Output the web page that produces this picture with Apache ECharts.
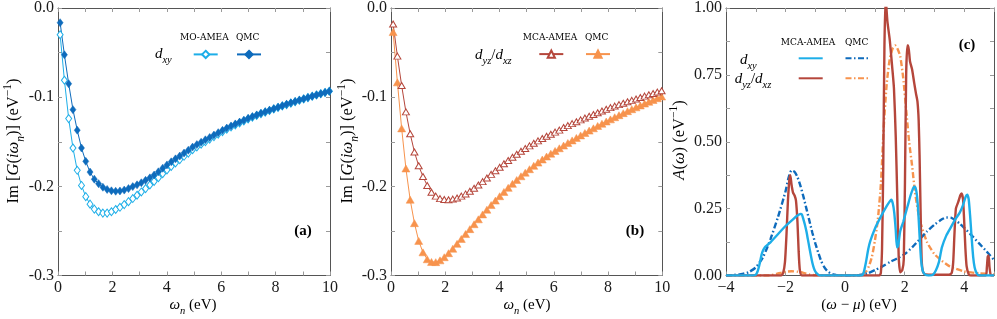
<!DOCTYPE html>
<html>
<head>
<meta charset="utf-8">
<script src="https://cdn.jsdelivr.net/npm/echarts@6/dist/echarts.min.js"></script>
<style>html,body{margin:0;padding:0;background:#fff;}#c{width:997px;height:319px;}</style>
</head>
<body>
<div id="c"></div>
<script>
// ---------- DATA ----------
const omega = [0.0785,0.2356,0.3927,0.5498,0.7069,0.8639,1.0210,1.1781,1.3352,1.4923,
1.6493,1.8064,1.9635,2.1206,2.2777,2.4347,2.5918,2.7489,2.9060,3.0631,
3.2201,3.3772,3.5343,3.6914,3.8485,4.0055,4.1626,4.3197,4.4768,4.6338,
4.7909,4.9480,5.1051,5.2622,5.4192,5.5763,5.7334,5.8905,6.0476,6.2046,
6.3617,6.5188,6.6759,6.8330,6.9900,7.1471,7.3042,7.4613,7.6184,7.7754,
7.9325,8.0896,8.2467,8.4038,8.5608,8.7179,8.8750,9.0321,9.1892,9.3462,
9.5033,9.6604,9.8175,9.9746];

// panel (a) d_xy
const ameaA = [-0.0300,-0.0810,-0.1240,-0.1570,-0.1820,-0.1990,-0.2116,-0.2200,-0.2255,-0.2285,
-0.2300,-0.2300,-0.2285,-0.2260,-0.2235,-0.2205,-0.2172,-0.2137,-0.2100,-0.2063,
-0.2025,-0.1985,-0.1945,-0.1903,-0.1858,-0.1816,-0.1777,-0.1738,-0.1700,-0.1663,
-0.1627,-0.1590,-0.1558,-0.1528,-0.1499,-0.1470,-0.1442,-0.1414,-0.1387,-0.1360,
-0.1335,-0.1311,-0.1289,-0.1267,-0.1245,-0.1225,-0.1205,-0.1186,-0.1168,-0.1150,
-0.1133,-0.1116,-0.1099,-0.1083,-0.1067,-0.1051,-0.1035,-0.1020,-0.1005,-0.0990,
-0.0976,-0.0962,-0.0948,-0.0934];
const qmcA = [-0.0165,-0.0525,-0.0850,-0.1140,-0.1370,-0.1570,-0.1720,-0.1840,-0.1920,-0.1970,
-0.2010,-0.2035,-0.2050,-0.2055,-0.2052,-0.2042,-0.2025,-0.2003,-0.1983,-0.1960,
-0.1933,-0.1905,-0.1873,-0.1837,-0.1797,-0.1760,-0.1725,-0.1692,-0.1660,-0.1627,
-0.1595,-0.1560,-0.1532,-0.1505,-0.1478,-0.1452,-0.1425,-0.1398,-0.1372,-0.1347,
-0.1323,-0.1300,-0.1279,-0.1258,-0.1237,-0.1218,-0.1199,-0.1180,-0.1163,-0.1146,
-0.1129,-0.1112,-0.1096,-0.1080,-0.1064,-0.1048,-0.1033,-0.1018,-0.1004,-0.0989,
-0.0975,-0.0961,-0.0947,-0.0933];

// panel (b) d_yz/d_xz
const ameaB = [-0.0180,-0.0540,-0.0870,-0.1165,-0.1410,-0.1615,-0.1770,-0.1890,-0.1990,-0.2067,
-0.2110,-0.2138,-0.2148,-0.2150,-0.2143,-0.2130,-0.2110,-0.2085,-0.2055,-0.2022,
-0.1985,-0.1947,-0.1907,-0.1866,-0.1826,-0.1786,-0.1747,-0.1710,-0.1674,-0.1640,
-0.1607,-0.1576,-0.1546,-0.1517,-0.1490,-0.1464,-0.1439,-0.1415,-0.1392,-0.1370,
-0.1341,-0.1319,-0.1297,-0.1276,-0.1255,-0.1234,-0.1214,-0.1194,-0.1174,-0.1155,
-0.1136,-0.1117,-0.1100,-0.1084,-0.1068,-0.1052,-0.1036,-0.1020,-0.1004,-0.0988,
-0.0973,-0.0958,-0.0943,-0.0928];
const qmcB = [-0.0270,-0.0834,-0.1350,-0.1800,-0.2150,-0.2413,-0.2612,-0.2740,-0.2818,-0.2848,
-0.2850,-0.2830,-0.2795,-0.2750,-0.2700,-0.2645,-0.2590,-0.2535,-0.2480,-0.2425,
-0.2370,-0.2315,-0.2262,-0.2210,-0.2160,-0.2111,-0.2063,-0.2017,-0.1972,-0.1929,
-0.1887,-0.1847,-0.1808,-0.1770,-0.1734,-0.1699,-0.1666,-0.1634,-0.1603,-0.1573,
-0.1543,-0.1514,-0.1485,-0.1457,-0.1429,-0.1402,-0.1375,-0.1349,-0.1323,-0.1298,
-0.1273,-0.1249,-0.1225,-0.1202,-0.1179,-0.1157,-0.1135,-0.1114,-0.1093,-0.1072,
-0.1052,-0.1032,-0.1012,-0.0993];

// panel (c) spectral functions
const qmcXyX = [-4.0,-3.75,-3.5,-3.25,-3.0,-2.75,-2.5,-2.25,-2.0,-1.9,-1.8,-1.7,-1.6,-1.5,-1.4,-1.3,-1.2,-1.1,-1.0,-0.9,-0.8,-0.7,-0.6,-0.5,-0.4,-0.3,0.0,0.3,0.5,0.75,1.0,1.25,1.5,1.75,2.0,2.25,2.5,2.75,3.0,3.25,3.4,3.55,3.7,3.85,4.0,4.25,4.5,4.75,5.0];
const qmcXyY = [0.0,0.002,0.005,0.012,0.03,0.07,0.138,0.22,0.315,0.365,0.393,0.388,0.368,0.335,0.295,0.25,0.205,0.16,0.12,0.085,0.053,0.031,0.017,0.009,0.004,0.002,0.0,0.0,0.002,0.008,0.02,0.034,0.05,0.064,0.08,0.105,0.135,0.165,0.19,0.21,0.217,0.216,0.207,0.194,0.178,0.15,0.12,0.09,0.058];

const qmcYzX = [-4.0,-2.6,-2.3,-2.0,-1.8,-1.6,-1.4,-1.2,-1.0,-0.5,0.0,0.5,0.7,0.8,0.9,1.0,1.1,1.2,1.3,1.4,1.5,1.6,1.68,1.75,1.85,1.95,2.05,2.15,2.25,2.35,2.5,2.75,3.0,3.25,3.5,4.0,4.5,5.0];
const qmcYzY = [0.0,0.0,0.006,0.014,0.016,0.014,0.01,0.004,0.001,0.0,0.0,0.002,0.015,0.035,0.07,0.13,0.21,0.34,0.56,0.72,0.81,0.85,0.86,0.85,0.82,0.74,0.62,0.50,0.41,0.31,0.21,0.125,0.08,0.055,0.035,0.015,0.008,0.005];

const ameaXyX = [-4.0,-3.1,-3.0,-2.95,-2.9,-2.85,-2.8,-2.75,-2.7,-2.6,-2.5,-2.25,-2.0,-1.75,-1.6,-1.5,-1.45,-1.4,-1.35,-1.3,-1.25,-1.2,-1.15,-1.1,-1.05,-1.0,-0.95,-0.85,0.0,0.55,0.62,0.7,0.78,0.85,1.0,1.2,1.4,1.5,1.55,1.6,1.65,1.7,1.74,1.78,1.85,1.95,2.1,2.2,2.3,2.35,2.4,2.45,2.5,2.55,2.6,2.67,2.8,2.95,3.05,3.15,3.25,3.4,3.55,3.7,3.85,3.95,4.05,4.1,4.15,4.2,4.25,4.3,4.35,4.42,4.5,4.6,5.0];
const ameaXyY = [0.0,0.0,0.003,0.012,0.03,0.055,0.08,0.095,0.105,0.115,0.125,0.155,0.185,0.21,0.224,0.23,0.228,0.21,0.19,0.165,0.135,0.105,0.075,0.048,0.028,0.015,0.008,0.0,0.0,0.0,0.01,0.05,0.1,0.13,0.175,0.22,0.26,0.277,0.283,0.27,0.235,0.17,0.105,0.11,0.165,0.2,0.26,0.3,0.33,0.332,0.31,0.25,0.15,0.06,0.02,0.005,0.0,0.003,0.02,0.05,0.105,0.15,0.18,0.21,0.235,0.26,0.295,0.302,0.285,0.22,0.14,0.07,0.03,0.008,0.0,0.0,0.0];

const ameaYzX = [-4.0,-2.15,-2.08,-2.02,-1.97,-1.92,-1.87,-1.84,-1.8,-1.75,-1.7,-1.65,-1.6,-1.56,-1.52,-1.45,0.0,1.15,1.2,1.24,1.28,1.32,1.36,1.42,1.5,1.58,1.64,1.7,1.75,1.8,1.85,1.92,1.97,2.01,2.05,2.09,2.12,2.18,2.25,2.32,2.38,2.43,2.47,2.5,2.53,2.57,2.62,2.7,3.0,3.5,3.58,3.63,3.67,3.72,3.8,3.87,3.91,3.96,4.0,4.04,4.08,4.15,4.22,4.72,4.76,4.79,4.82,4.85,4.9,5.0];
const ameaYzY = [0.0,0.0,0.01,0.05,0.15,0.28,0.36,0.375,0.34,0.31,0.30,0.28,0.2,0.09,0.02,0.0,0.0,0.0,0.01,0.1,0.4,0.85,1.04,0.95,0.88,0.78,0.70,0.52,0.3,0.07,0.012,0.02,0.06,0.35,0.75,0.86,0.86,0.8,0.77,0.72,0.68,0.65,0.58,0.45,0.27,0.06,0.012,0.004,0.003,0.003,0.01,0.05,0.15,0.25,0.275,0.3,0.307,0.285,0.2,0.1,0.035,0.005,0.0,0.0,0.03,0.07,0.075,0.03,0.0,0.0];

// tick labels
const xTickValsAB = [0,2,4,6,8,10];
const xTickLabsAB = ['0','2','4','6','8','10'];
const yTickValsAB = [0,-0.1,-0.2,-0.3];
const yTickLabsAB = ['0.0','-0.1','-0.2','-0.3'];
const xTickValsC = [-4,-2,0,2,4];
const xTickLabsC = ['\u22124','\u22122','0','2','4'];
const yTickValsC = [0,0.25,0.5,0.75,1];
const yTickLabsC = ['0.00','0.25','0.50','0.75','1.00'];

// ---------- STYLE ----------
const SERIF = '"Liberation Serif", "DejaVu Serif", serif';
const HEAD = '"DejaVu Serif", "Liberation Serif", serif';
const LB = '#1DAEE8', DB = '#0E6BBC', RED = '#B5463B', OR = '#F7934D';
const FRAME = '#555', TICK = '#9a9a9a', TXT = '#1a1a1a';

function lookup(vals, labs) {
  return v => { const k = vals.findIndex(t => Math.abs(t - v) < 1e-6); return k >= 0 ? labs[k] : ''; };
}
function xAx(grid, min, max, interval, vals, labs, pos) {
  return {
    type: 'value', gridIndex: grid, min, max, interval, position: pos,
    axisLine: { show: true, onZero: false, lineStyle: { color: FRAME, width: 1 } },
    axisTick: { show: true, inside: true, length: 4, lineStyle: { color: TICK } },
    minorTick: { show: true, splitNumber: 2, length: 4, lineStyle: { color: TICK } },
    splitLine: { show: false }, minorSplitLine: { show: false },
    axisLabel: { show: pos === 'bottom', margin: 4, fontFamily: SERIF, fontSize: 16, color: TXT,
      formatter: lookup(vals, labs), showMinLabel: true, showMaxLabel: true },
  };
}
function yAx(grid, min, max, interval, vals, labs, pos, split) {
  return {
    type: 'value', gridIndex: grid, min, max, interval, position: pos,
    axisLine: { show: true, onZero: false, lineStyle: { color: FRAME, width: 1 } },
    axisTick: { show: true, inside: true, length: 4, lineStyle: { color: TICK } },
    minorTick: { show: true, splitNumber: split, length: 4, lineStyle: { color: TICK } },
    splitLine: { show: false }, minorSplitLine: { show: false },
    axisLabel: { show: pos === 'left', margin: 4, fontFamily: SERIF, fontSize: 16, color: TXT,
      formatter: lookup(vals, labs), showMinLabel: true, showMaxLabel: true },
  };
}
const zip = (xs, ys) => xs.map((x, i) => [x, ys[i]]);

const R = {
  n: { fontFamily: SERIF, fontSize: 15, color: TXT },
  i: { fontFamily: SERIF, fontSize: 15, fontStyle: 'italic', color: TXT },
  sb: { fontFamily: SERIF, fontSize: 10.5, fontStyle: 'italic', color: TXT, padding: [12, 0, 0, 0] },
  sp: { fontFamily: SERIF, fontSize: 10.5, color: TXT, padding: [0, 0, 11, 0] },
  N: { fontFamily: SERIF, fontSize: 16.5, color: TXT },
  I: { fontFamily: SERIF, fontSize: 16.5, fontStyle: 'italic', color: TXT },
  SB: { fontFamily: SERIF, fontSize: 11.5, fontStyle: 'italic', color: TXT, padding: [13, 0, 0, 0] },
  SP: { fontFamily: SERIF, fontSize: 11.5, color: TXT, padding: [0, 0, 12, 0] },
  b: { fontFamily: SERIF, fontSize: 15, fontWeight: 'bold', color: TXT },
  h: { fontFamily: HEAD, fontSize: 9, color: '#333' },
};
function txt(x, y, text, rot) {
  return { type: 'text', x, y, rotation: rot || 0, z: 100,
    style: { text, rich: R, align: 'center', verticalAlign: 'middle' } };
}
function leg(name, left, cy, hideSym) {
  const l = { data: [name], left, top: cy - 4.5, itemWidth: 24, itemHeight: 9, padding: 0, itemGap: 0,
    selectedMode: false, formatter: () => '', textStyle: { fontSize: 1 } };
  if (hideSym) l.itemStyle = { opacity: 0 };
  return l;
}

const option = {
  animation: false,
  backgroundColor: '#fff',
  grid: [
    { left: 58, top: 4, width: 272, height: 271.5 },
    { left: 391, top: 4, width: 271.3, height: 271.5 },
    { left: 726, top: 4, width: 270.5, height: 271.5 },
  ],
  xAxis: [
    xAx(0, 0, 10, 2, xTickValsAB, xTickLabsAB, 'bottom'),
    xAx(0, 0, 10, 2, xTickValsAB, xTickLabsAB, 'top'),
    xAx(1, 0, 10, 2, xTickValsAB, xTickLabsAB, 'bottom'),
    xAx(1, 0, 10, 2, xTickValsAB, xTickLabsAB, 'top'),
    xAx(2, -4, 5, 2, xTickValsC, xTickLabsC, 'bottom'),
    xAx(2, -4, 5, 2, xTickValsC, xTickLabsC, 'top'),
  ],
  yAxis: [
    yAx(0, -0.3, 0, 0.1, yTickValsAB, yTickLabsAB, 'left', 2),
    yAx(0, -0.3, 0, 0.1, yTickValsAB, yTickLabsAB, 'right', 2),
    yAx(1, -0.3, 0, 0.1, yTickValsAB, yTickLabsAB, 'left', 2),
    yAx(1, -0.3, 0, 0.1, yTickValsAB, yTickLabsAB, 'right', 2),
    yAx(2, 0, 1, 0.25, yTickValsC, yTickLabsC, 'left', 2),
    yAx(2, 0, 1, 0.25, yTickValsC, yTickLabsC, 'right', 2),
  ],
  legend: [
    leg('MO-AMEA', 192.7, 54.3), leg('QMC a', 236, 54.3),
    leg('MCA-AMEA b', 538.3, 54), leg('QMC b', 585, 54),
    leg('MCA-AMEA xy', 797.7, 58.3, true), leg('QMC xy', 844.5, 58.3, true),
    leg('MCA-AMEA yz', 797.7, 78.3, true), leg('QMC yz', 844.5, 78.3, true),
  ],
  series: [
    { name: 'MO-AMEA', type: 'line', xAxisIndex: 0, yAxisIndex: 0, data: zip(omega, ameaA),
      symbol: 'diamond', symbolSize: [6, 8], lineStyle: { color: LB, width: 1 },
      itemStyle: { color: '#fff', borderColor: LB, borderWidth: 1 } },
    { name: 'QMC a', type: 'line', xAxisIndex: 0, yAxisIndex: 0, data: zip(omega, qmcA),
      symbol: 'diamond', symbolSize: [6, 8], lineStyle: { color: DB, width: 1 },
      itemStyle: { color: DB, borderColor: DB, borderWidth: 0.5 } },
    { name: 'QMC b', type: 'line', xAxisIndex: 2, yAxisIndex: 2, data: zip(omega, qmcB),
      symbol: 'triangle', symbolSize: [8, 7], lineStyle: { color: OR, width: 1 },
      itemStyle: { color: OR, borderColor: OR, borderWidth: 0.5 } },
    { name: 'MCA-AMEA b', type: 'line', xAxisIndex: 2, yAxisIndex: 2, data: zip(omega, ameaB),
      symbol: 'triangle', symbolSize: [7, 6], lineStyle: { color: RED, width: 1 },
      itemStyle: { color: '#fff', borderColor: RED, borderWidth: 1 } },
    { name: 'QMC yz', type: 'line', xAxisIndex: 4, yAxisIndex: 4, data: zip(qmcYzX, qmcYzY),
      symbol: 'none', smooth: 0.2, lineStyle: { color: OR, width: 2.4, type: [6, 2.5, 1.5, 2.5] }, itemStyle: { color: OR } },
    { name: 'QMC xy', type: 'line', xAxisIndex: 4, yAxisIndex: 4, data: zip(qmcXyX, qmcXyY),
      symbol: 'none', smooth: 0.2, lineStyle: { color: DB, width: 2.4, type: [6, 2.5, 1.5, 2.5] }, itemStyle: { color: DB } },
    { name: 'MCA-AMEA yz', type: 'line', xAxisIndex: 4, yAxisIndex: 4, data: zip(ameaYzX, ameaYzY),
      symbol: 'none', smooth: 0.2, lineStyle: { color: RED, width: 2.4 }, itemStyle: { color: RED } },
    { name: 'MCA-AMEA xy', type: 'line', xAxisIndex: 4, yAxisIndex: 4, data: zip(ameaXyX, ameaXyY),
      symbol: 'none', smooth: 0.2, lineStyle: { color: LB, width: 2.4 }, itemStyle: { color: LB } },
  ],
  graphic: [
    txt(14, 141, '{N|Im [}{I|G}{N|(}{I|iω}{SB|n}{N|)] (eV}{SP|−1}{N|)}', Math.PI / 2),
    txt(348, 141, '{N|Im [}{I|G}{N|(}{I|iω}{SB|n}{N|)] (eV}{SP|−1}{N|)}', Math.PI / 2),
    txt(680, 140, '{N|}{I|A}{N|(}{I|ω}{N|) (eV}{SP|−1}{N|)}', Math.PI / 2),
    txt(193, 305, '{i|ω}{sb|n}{n| (eV)}'),
    txt(527, 305, '{i|ω}{sb|n}{n| (eV)}'),
    txt(859, 305, '{n|(}{i|ω}{n| − }{i|μ}{n|) (eV)}'),
    txt(303, 231, '{b|(a)}'),
    txt(635, 231, '{b|(b)}'),
    txt(967, 45, '{b|(c)}'),
    txt(204.3, 37.7, '{h|MO-AMEA}'),
    txt(247.7, 37.7, '{h|QMC}'),
    txt(550, 37.7, '{h|MCA-AMEA}'),
    txt(596.7, 37.7, '{h|QMC}'),
    txt(808, 42.7, '{h|MCA-AMEA}'),
    txt(856.7, 42.7, '{h|QMC}'),
    txt(163.3, 54.3, '{i|d}{sb|xy}'),
    txt(493.3, 55, '{i|d}{sb|yz}{n|/}{i|d}{sb|xz}'),
    txt(748.3, 60, '{i|d}{sb|xy}'),
    txt(753, 79, '{i|d}{sb|yz}{n|/}{i|d}{sb|xz}'),
  ],
};
const chart = echarts.init(document.getElementById('c'), null, { renderer: 'canvas' });
chart.setOption(option);
</script>
</body>
</html>
